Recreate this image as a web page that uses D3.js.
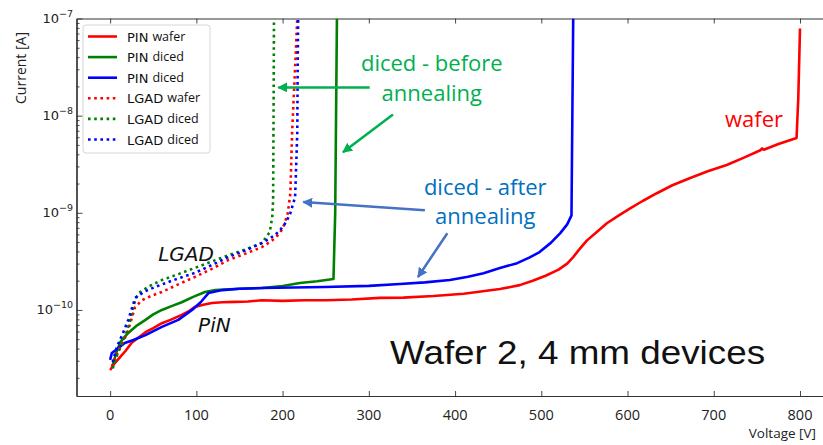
<!DOCTYPE html>
<html>
<head>
<meta charset="utf-8">
<script src="https://cdn.jsdelivr.net/npm/d3@7"></script>
<style>
  body { margin: 0; background: #fff; }
  svg { display: block; }
</style>
</head>
<body>
<div id="chart"></div>
<script>
// data: [voltage V, current A]
var pinWafer = [[0, 2.4e-11], [5, 2.8e-11], [12, 3.3e-11], [18, 3.8e-11], [25, 4.6e-11], [33, 5.2e-11], [41, 5.9e-11],
  [50, 6.5e-11], [60, 7.3e-11], [70, 7.9e-11], [83, 8.9e-11], [92, 9.8e-11], [98, 1.07e-10], [108, 1.13e-10],
  [118, 1.18e-10], [130, 1.2e-10], [145, 1.21e-10], [160, 1.22e-10], [176, 1.26e-10], [200, 1.24e-10],
  [225, 1.26e-10], [250, 1.26e-10], [280, 1.28e-10], [313, 1.33e-10], [340, 1.34e-10], [375, 1.39e-10],
  [410, 1.47e-10], [452, 1.64e-10], [475, 1.8e-10], [490, 2.0e-10], [505, 2.25e-10], [520, 2.6e-10],
  [530, 3.0e-10], [537, 3.5e-10], [545, 4.3e-10], [553, 5.2e-10], [565, 6.4e-10], [576, 7.8e-10],
  [590, 9.4e-10], [603, 1.11e-9], [618, 1.33e-9], [634, 1.59e-9], [652, 1.92e-9], [672, 2.27e-9],
  [693, 2.68e-9], [715, 3.1e-9], [735, 3.7e-9], [754, 4.4e-9], [756, 4.6e-9], [758, 4.45e-9],
  [775, 5.1e-9], [796, 5.9e-9], [798, 1.5e-8], [800, 7.9e-8]];
var pinDicedBefore = [[3, 2.7e-11], [7, 3.6e-11], [12, 4.7e-11], [21, 5.8e-11], [30, 6.8e-11], [41, 7.9e-11],
  [50, 9.0e-11], [60, 1.0e-10], [72, 1.1e-10], [83, 1.2e-10], [97, 1.37e-10], [110, 1.53e-10], [122, 1.6e-10],
  [150, 1.65e-10], [176, 1.68e-10], [200, 1.76e-10], [220, 1.89e-10], [240, 1.97e-10], [259, 2.08e-10],
  [261, 1.0e-9], [262, 1.0e-8], [263, 1.0e-7]];
var pinDicedAfter = [[0, 3.06e-11], [2, 3.6e-11], [7, 3.9e-11], [17, 4.57e-11], [27, 4.9e-11], [41, 5.5e-11],
  [60, 6.7e-11], [79, 7.9e-11], [95, 1.0e-10], [105, 1.2e-10], [114, 1.49e-10], [130, 1.6e-10], [150, 1.65e-10],
  [176, 1.68e-10], [249, 1.72e-10], [300, 1.77e-10], [336, 1.85e-10], [365, 1.92e-10], [394, 2.03e-10],
  [415, 2.2e-10], [433, 2.39e-10], [452, 2.7e-10], [472, 3.03e-10], [486, 3.45e-10], [498, 3.94e-10],
  [511, 4.9e-10], [522, 6.17e-10], [530, 7.6e-10], [535, 9.4e-10], [536, 1.0e-8], [537, 1.0e-7]];
var lgadWafer = [[2, 2.6e-11], [9, 3.7e-11], [16, 4.9e-11], [21, 6.2e-11], [25, 8.2e-11], [29, 1.07e-10],
  [37, 1.26e-10], [48, 1.4e-10], [60, 1.53e-10], [80, 1.85e-10], [98, 2.18e-10], [118, 2.65e-10],
  [137, 3.26e-10], [157, 3.8e-10], [176, 4.43e-10], [188, 5.2e-10], [197, 6.17e-10], [202, 7.6e-10],
  [206, 9.9e-10], [209, 1.59e-9], [211, 6.58e-9], [214.5, 3.13e-8], [217, 1.0e-7]];
var lgadDicedBefore = [[3, 2.5e-11], [9, 3.6e-11], [15, 4.8e-11], [20, 6.2e-11], [25, 9.0e-11], [29, 1.26e-10],
  [33, 1.49e-10], [45, 1.75e-10], [60, 2.03e-10], [80, 2.35e-10], [98, 2.7e-10], [118, 3.15e-10],
  [137, 3.66e-10], [157, 4.2e-10], [176, 4.88e-10], [185, 6.3e-10], [188, 9.0e-10], [189, 1.35e-9],
  [189.6, 1.44e-8], [190, 1.0e-7]];
var lgadDicedAfter = [[3, 2.9e-11], [8, 4.2e-11], [15, 5.8e-11], [21, 7.9e-11], [25, 1.02e-10], [29, 1.33e-10],
  [40, 1.55e-10], [52, 1.72e-10], [75, 2.05e-10], [98, 2.4e-10], [118, 2.9e-10], [137, 3.5e-10],
  [157, 4.1e-10], [176, 4.88e-10], [190, 5.8e-10], [197, 6.6e-10], [204, 8.0e-10], [209, 9.9e-10],
  [214.5, 1.45e-9], [217, 6.6e-9], [217.5, 3.2e-8], [218, 1.0e-7]];

var seriesData = [pinWafer, pinDicedBefore, pinDicedAfter, lgadWafer, lgadDicedBefore, lgadDicedAfter];
var legendDevice = ["PIN", "PIN", "PIN", "LGAD", "LGAD", "LGAD"];
var legendState = ["wafer", "diced", "diced", "wafer", "diced", "diced"];
var seriesColors = ["#ff0000", "#008000", "#0000ff", "#ff0000", "#008000", "#0000ff"];
var seriesDotted = [false, false, false, true, true, true];

var xTicks = [0, 100, 200, 300, 400, 500, 600, 700, 800];
var yTicks = [1e-10, 1e-9, 1e-8, 1e-7];
var yTickExp = ["\u221210", "\u22129", "\u22128", "\u22127"];

var svgWidth = 823;
var svgHeight = 445;

var margin = { top: 18.5, right: -11.5, bottom: 49, left: 76.5 };
var width = svgWidth - margin.left - margin.right;
var height = svgHeight - margin.top - margin.bottom;

var svg = d3.select("#chart")
  .append("svg")
  .attr("width", svgWidth)
  .attr("height", svgHeight);

var chartGroup = svg.append("g")
  .attr("transform", `translate(${margin.left}, ${margin.top})`);

// scales
var xLinearScale = d3.scaleLinear()
  .domain([-39, 840])
  .range([0, width]);

var yLogScale = d3.scaleLog()
  .domain([1.3e-11, 1e-7])
  .range([height, 0]);

// minor ticks for the log axis
var yMinor = [];
[-11, -10, -9, -8].forEach(function(e) {
  for (var m = 2; m <= 9; m++) {
    var v = m * Math.pow(10, e);
    if (v >= 1.3e-11 && v <= 1e-7) yMinor.push(v);
  }
});

var axisColor = "#333";

// axes (ticks point inward)
var bottomAxis = d3.axisBottom(xLinearScale).tickValues(xTicks).tickSize(-5).tickSizeOuter(0).tickFormat("");
var topAxis = d3.axisTop(xLinearScale).tickValues(xTicks).tickSize(-5).tickSizeOuter(0).tickFormat("");
var leftAxis = d3.axisLeft(yLogScale).tickValues(yTicks).tickSize(-6).tickSizeOuter(0).tickFormat("");
var leftMinor = d3.axisLeft(yLogScale).tickValues(yMinor).tickSize(-3).tickSizeOuter(0).tickFormat("");

chartGroup.append("g").attr("class", "axis")
  .attr("transform", `translate(0, ${height})`).call(bottomAxis);
chartGroup.append("g").attr("class", "axis").call(topAxis);
chartGroup.append("g").attr("class", "axis").call(leftAxis);
chartGroup.append("g").attr("class", "axis").call(leftMinor);

chartGroup.selectAll(".axis path").attr("stroke", axisColor).attr("stroke-width", 1.2);
chartGroup.selectAll(".axis line").attr("stroke", axisColor).attr("stroke-width", 0.9);

// x tick labels
chartGroup.selectAll(".xlab")
  .data(xTicks)
  .enter()
  .append("text")
  .attr("x", d => xLinearScale(d))
  .attr("y", height + 24)
  .attr("text-anchor", "middle")
  .style("font-family", "'Open Sans', sans-serif")
  .style("font-size", "14.5px")
  .style("fill", "#222")
  .text(d => d);

// y tick labels as 10^n
var yLab = chartGroup.selectAll(".ylab")
  .data(yTicks)
  .enter()
  .append("text")
  .attr("x", -3.5)
  .attr("y", d => yLogScale(d) + 4.5)
  .attr("text-anchor", "end")
  .style("font-family", "'DejaVu Sans', sans-serif")
  .style("font-size", "13px")
  .style("fill", "#222");
yLab.append("tspan").text("10");
yLab.append("tspan")
  .attr("dy", -6)
  .style("font-size", "9.5px")
  .text((d, i) => yTickExp[i]);

// axis titles
svg.append("text")
  .attr("transform", "translate(26, 68) rotate(-90)")
  .attr("text-anchor", "middle")
  .style("font-family", "'Open Sans', sans-serif")
  .style("font-size", "14px")
  .style("fill", "#222")
  .text("Current [A]");

svg.append("text")
  .attr("x", 816)
  .attr("y", 438)
  .attr("text-anchor", "end")
  .style("font-family", "'Open Sans', sans-serif")
  .style("font-size", "13.5px")
  .style("fill", "#222")
  .text("Voltage [V]");

// curves
svg.append("defs").append("clipPath").attr("id", "plotClip")
  .append("rect").attr("width", width).attr("height", height);

var line = d3.line()
  .x(d => xLinearScale(d[0]))
  .y(d => yLogScale(d[1]));

chartGroup.append("g")
  .attr("clip-path", "url(#plotClip)")
  .selectAll("path")
  .data(seriesData)
  .enter()
  .append("path")
  .attr("d", line)
  .attr("fill", "none")
  .attr("stroke", (d, i) => seriesColors[i])
  .attr("stroke-width", 2.6)
  .attr("stroke-linejoin", "round")
  .attr("stroke-dasharray", (d, i) => seriesDotted[i] ? "2.6,3.6" : null);

// legend
var legend = svg.append("g").attr("transform", "translate(83, 25)");
legend.append("rect")
  .attr("width", 127)
  .attr("height", 128)
  .attr("rx", 3)
  .attr("fill", "#fff")
  .attr("fill-opacity", 0.85)
  .attr("stroke", "#d6d6d6")
  .attr("stroke-width", 1);

var legendRows = legend.selectAll(".lrow")
  .data(seriesColors)
  .enter()
  .append("g")
  .attr("transform", (d, i) => `translate(0, ${11.5 + i * 20.6})`);

legendRows.append("line")
  .attr("x1", 5)
  .attr("x2", 34)
  .attr("stroke", d => d)
  .attr("stroke-width", 2.6)
  .attr("stroke-dasharray", (d, i) => seriesDotted[i] ? "2.6,3.6" : null);

var legendText = legendRows.append("text")
  .attr("x", 44)
  .attr("y", 5)
  .style("fill", "#111");
legendText.append("tspan")
  .style("font-family", "'DejaVu Sans', sans-serif")
  .style("font-size", "13px")
  .text((d, i) => legendDevice[i]);
legendText.append("tspan")
  .attr("dx", 4)
  .attr("dy", -1)
  .style("font-family", "'Open Sans', sans-serif")
  .style("font-size", "12.5px")
  .text((d, i) => legendState[i]);

// annotations
var defs = svg.select("defs");
function arrowHead(id, color) {
  defs.append("marker")
    .attr("id", id)
    .attr("viewBox", "0 0 10 10")
    .attr("refX", 9)
    .attr("refY", 5)
    .attr("markerWidth", 4)
    .attr("markerHeight", 4)
    .attr("markerUnits", "strokeWidth")
    .attr("orient", "auto")
    .append("path")
    .attr("d", "M0,0 L10,5 L0,10 z")
    .attr("fill", color);
}
arrowHead("headGreen", "#00b050");
arrowHead("headBlue", "#4472c4");

var arrows = [
  { from: [301, 1.95e-8], to: [195, 1.95e-8], color: "#00b050", head: "headGreen" },
  { from: [328, 1.03e-8], to: [270, 4.2e-9], color: "#00b050", head: "headGreen" },
  { from: [365, 1.06e-9], to: [224, 1.29e-9], color: "#4472c4", head: "headBlue" },
  { from: [391, 6.16e-10], to: [357, 2.18e-10], color: "#4472c4", head: "headBlue" }
];

chartGroup.selectAll(".arrow")
  .data(arrows)
  .enter()
  .append("line")
  .attr("x1", d => xLinearScale(d.from[0]))
  .attr("y1", d => yLogScale(d.from[1]))
  .attr("x2", d => xLinearScale(d.to[0]))
  .attr("y2", d => yLogScale(d.to[1]))
  .attr("stroke", d => d.color)
  .attr("stroke-width", 2.5)
  .attr("marker-end", d => `url(#${d.head})`);

function note(lines, v, amp, color, size, family, anchor, style, fitWidth) {
  var t = chartGroup.append("text")
    .attr("x", xLinearScale(v))
    .attr("y", yLogScale(amp))
    .attr("text-anchor", anchor)
    .style("font-family", family)
    .style("font-size", size + "px")
    .style("font-style", style || "normal")
    .style("fill", color);
  lines.forEach(function(s, i) {
    var span = t.append("tspan")
      .attr("x", xLinearScale(v))
      .attr("dy", i === 0 ? 0 : size * 1.33)
      .text(s);
    if (fitWidth) span.attr("textLength", fitWidth).attr("lengthAdjust", "spacingAndGlyphs");
  });
  return t;
}

note(["diced - before", "annealing"], 373, 2.85e-8, "#00b050", 22, "'Open Sans', sans-serif", "middle");
note(["diced - after", "annealing"], 435, 1.52e-9, "#0070c0", 22, "'Open Sans', sans-serif", "middle");
note(["wafer"], 713, 7.6e-9, "#ff0000", 22, "'Open Sans', sans-serif", "start");
note(["LGAD"], 55.7, 3.18e-10, "#111", 20, "'DejaVu Sans', sans-serif", "start", "italic");
note(["PiN"], 102, 5.93e-11, "#111", 20, "'DejaVu Sans', sans-serif", "start", "italic");
note(["Wafer 2, 4 mm devices"], 324.6, 2.78e-11, "#111", 33.5, "'Liberation Sans', Arial, sans-serif", "start", "normal", 375);
</script>
</body>
</html>
